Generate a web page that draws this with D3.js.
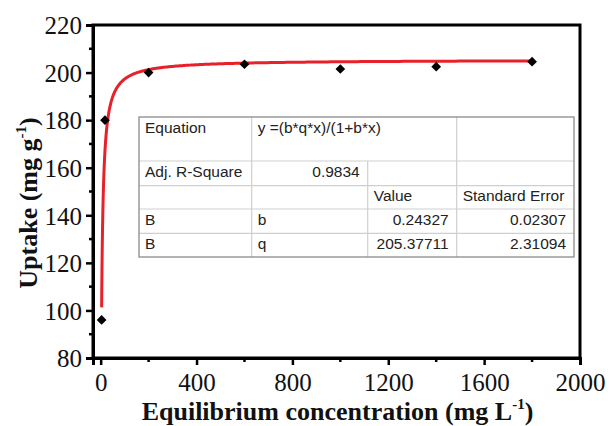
<!DOCTYPE html>
<html><head><meta charset="utf-8">
<script src="https://cdn.jsdelivr.net/npm/d3@7"></script>
<style>body{margin:0;background:#fff}svg{display:block}</style>
</head><body>
<svg id="c" width="610" height="426"></svg>
<script>
const ceValues = [4, 18, 200, 600, 1000, 1400, 1800];
const uptakeValues = [96, 180, 200, 203.5, 201.5, 202.5, 204.6];
const fitB = 0.24327, fitQ = 205.37711;
const xTicks = [0, 400, 800, 1200, 1600, 2000];
const yTicks = [80, 100, 120, 140, 160, 180, 200, 220];
const tableRows = [
  ["Equation", "y =(b*q*x)/(1+b*x)", "", ""],
  ["Adj. R-Square", "0.9834", "", ""],
  ["", "", "Value", "Standard Error"],
  ["B", "b", "0.24327", "0.02307"],
  ["B", "q", "205.37711", "2.31094"]
];

const svg = d3.select("#c");
const L = 93, R = 580, T = 25, B = 358;
const x = d3.scaleLinear().domain([-32, 2000]).range([L, R]);
const y = d3.scaleLinear().domain([80, 220]).range([B, T]);

// frame
svg.append("rect").attr("x", L).attr("y", T).attr("width", R - L).attr("height", B - T)
  .attr("fill", "none").attr("stroke", "#000").attr("stroke-width", 3);

// minor ticks
const xMinor = d3.range(200, 2000, 400);
svg.append("g").selectAll("line").data(xMinor).join("line")
  .attr("x1", d => x(d)).attr("x2", d => x(d)).attr("y1", B).attr("y2", B + 4)
  .attr("stroke", "#000").attr("stroke-width", 2.5);
const yMinor = d3.range(90, 220, 20);
svg.append("g").selectAll("line").data(yMinor).join("line")
  .attr("y1", d => y(d)).attr("y2", d => y(d)).attr("x1", L).attr("x2", L - 4)
  .attr("stroke", "#000").attr("stroke-width", 2.5);

const serif = "'Liberation Serif','Times New Roman',serif";
const xAxis = svg.append("g").attr("transform", `translate(0,${B})`)
  .call(d3.axisBottom(x).tickValues(xTicks).tickSize(7).tickPadding(8).tickFormat(d3.format("d")));
const yAxis = svg.append("g").attr("transform", `translate(${L},0)`)
  .call(d3.axisLeft(y).tickValues(yTicks).tickSize(7).tickPadding(4).tickFormat(d3.format("d")));
[xAxis, yAxis].forEach(g => {
  g.select(".domain").attr("stroke-width", 3);
  g.selectAll(".tick line").attr("stroke-width", 2.5);
  g.selectAll(".tick text").attr("font-family", serif).attr("font-size", 25).attr("fill", "#111");
});
yAxis.selectAll(".tick text").attr("dy", "0.35em");

// axis titles
const xt = svg.append("text").attr("x", (L + R) / 2 + 1).attr("y", 420).attr("text-anchor", "middle")
  .attr("font-family", serif).attr("font-weight", "bold").attr("font-size", 26).attr("fill", "#111");
xt.append("tspan").text("Equilibrium concentration (mg L");
xt.append("tspan").text("-1").attr("font-size", 15).attr("dy", -11);
xt.append("tspan").text(")").attr("dy", 11);

const yt = svg.append("text").attr("transform", `translate(37,203) rotate(-90)`)
  .attr("text-anchor", "middle")
  .attr("font-family", serif).attr("font-weight", "bold").attr("font-size", 26).attr("fill", "#111");
yt.append("tspan").text("Uptake (mg g");
yt.append("tspan").text("-1").attr("font-size", 15).attr("dy", -11);
yt.append("tspan").text(")").attr("dy", 11);

// fit curve
const curveX = d3.range(0, 400).map(i => 4 * Math.pow(1800 / 4, i / 399));
const line = d3.line().x(d => x(d)).y(d => y(fitB * fitQ * d / (1 + fitB * d))).curve(d3.curveLinear);
svg.append("path").datum(curveX).attr("d", line).attr("fill", "none")
  .attr("stroke", "#e8202a").attr("stroke-width", 3);

// points
const pts = ceValues.map((v, i) => [v, uptakeValues[i]]);
svg.append("g").selectAll("path").data(pts).join("path")
  .attr("transform", d => `translate(${x(d[0])},${y(d[1])})`)
  .attr("d", d3.symbol(d3.symbolDiamond2, 60)).attr("fill", "#000");

// table
const tx = [139, 251.7, 367.7, 456.7, 574];
const ty = [117, 161, 185.7, 209, 233.3, 257];
const tbl = svg.append("g");
tbl.append("rect").attr("x", tx[0]).attr("y", ty[0]).attr("width", tx[4] - tx[0]).attr("height", ty[5] - ty[0])
  .attr("fill", "#fff");
const gridC = "#cfcfcf";
for (let r = 1; r < 5; r++) {
  tbl.append("line").attr("x1", tx[0]).attr("x2", tx[4]).attr("y1", ty[r]).attr("y2", ty[r])
    .attr("stroke", gridC).attr("stroke-width", 1.2);
}
tbl.append("line").attr("x1", tx[1]).attr("x2", tx[1]).attr("y1", ty[0]).attr("y2", ty[5]).attr("stroke", gridC).attr("stroke-width", 1.2);
tbl.append("line").attr("x1", tx[2]).attr("x2", tx[2]).attr("y1", ty[1]).attr("y2", ty[5]).attr("stroke", gridC).attr("stroke-width", 1.2);
tbl.append("line").attr("x1", tx[3]).attr("x2", tx[3]).attr("y1", ty[0]).attr("y2", ty[5]).attr("stroke", gridC).attr("stroke-width", 1.2);
tbl.append("rect").attr("x", tx[0]).attr("y", ty[0]).attr("width", tx[4] - tx[0]).attr("height", ty[5] - ty[0])
  .attr("fill", "none").attr("stroke", "#8a8a8a").attr("stroke-width", 1.3);

const sans = "'Liberation Sans',Arial,sans-serif";
const baselines = [133, 176.5, 201, 225, 248.5];
const rightAligned = (r, c) => (r === 1 && c === 1) || (r >= 3 && c >= 2);
tableRows.forEach((row, r) => {
  row.forEach((txt, c) => {
    if (!txt) return;
    const ra = rightAligned(r, c);
    tbl.append("text")
      .attr("x", ra ? tx[c + 1] - 8 : tx[c] + 6)
      .attr("y", baselines[r])
      .attr("text-anchor", ra ? "end" : "start")
      .attr("font-family", sans).attr("font-size", 15.5).attr("fill", "#222")
      .text(txt);
  });
});
</script>
</body></html>
